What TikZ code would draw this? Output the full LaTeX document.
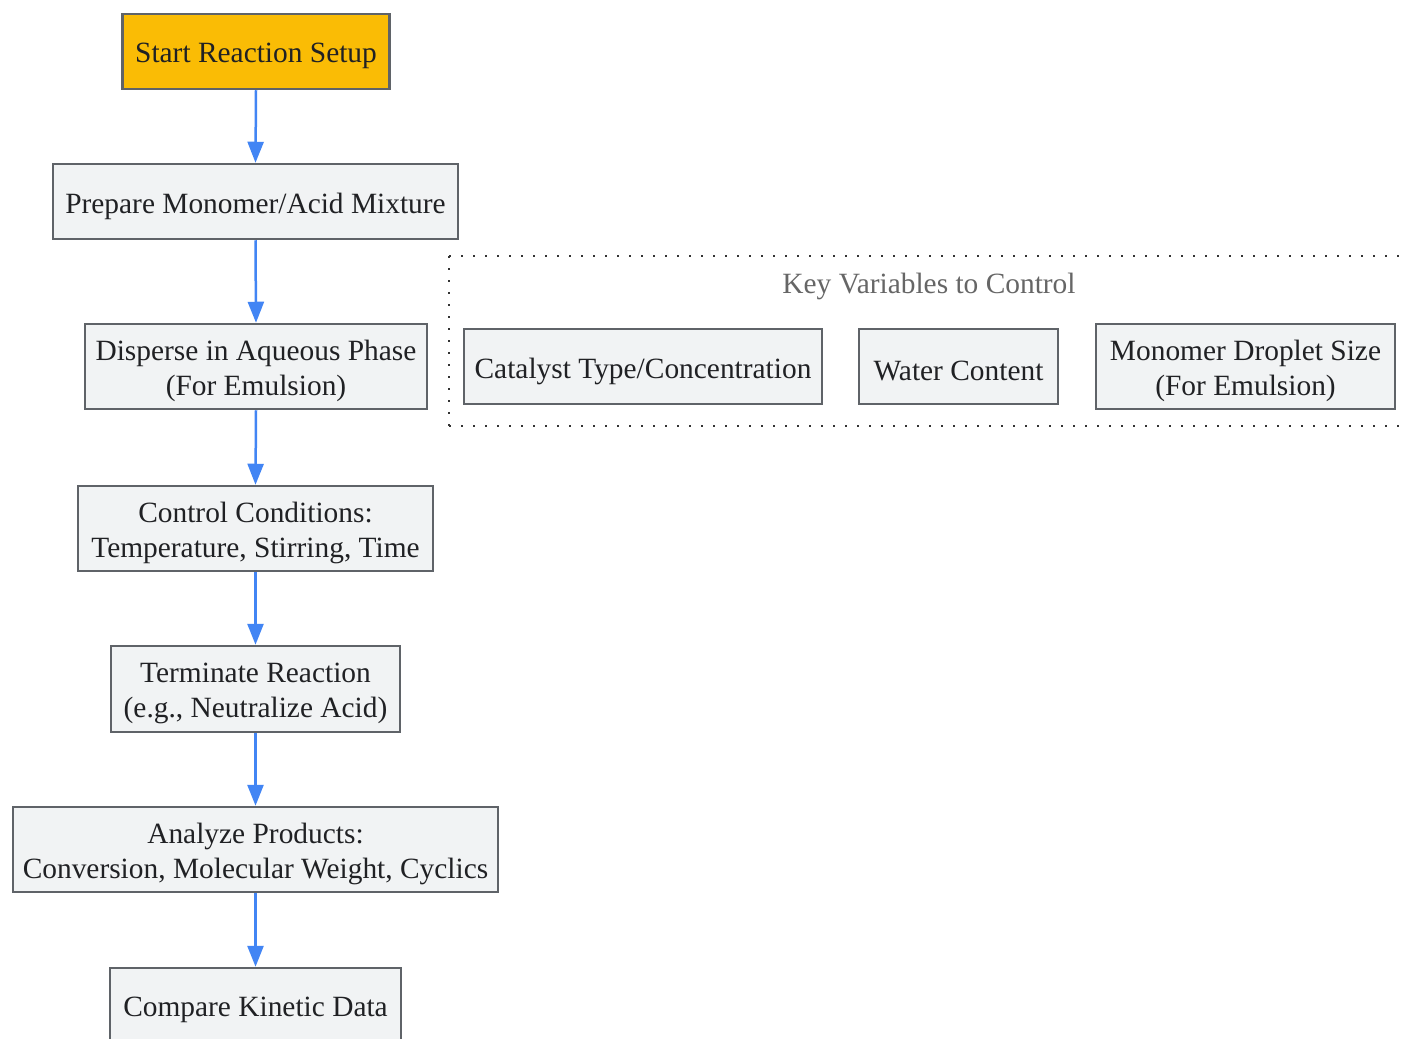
\documentclass[tikz,border=0pt]{standalone}
\usepackage{fontspec}
\setmainfont{Liberation Serif}
\usetikzlibrary{arrows.meta}
\definecolor{boxfill}{HTML}{F1F3F4}
\definecolor{boxline}{HTML}{5F6368}
\definecolor{startfill}{HTML}{FABC05}
\definecolor{arrowblue}{HTML}{4285F4}
\definecolor{txt}{HTML}{202124}
\definecolor{titlegray}{HTML}{666666}
\tikzset{
  txtstyle/.style={align=center, text=txt, inner sep=0pt, yshift=-4.5pt,
    font=\fontsize{29.4}{35}\selectfont},
  stepbox/.style={draw=boxline, fill=boxfill, line width=2.5pt, inner sep=0pt},
  startbox/.style={stepbox, fill=startfill},
  boxtext/.style={label={[txtstyle]center:{#1}}},
  flow/.style={draw=arrowblue, line width=2.5pt, -{Triangle[length=21pt,width=16pt]}},
  cluster/.style={draw=black!80, line width=1.8pt, dash pattern=on 1.8pt off 10.2pt}
}
\begin{document}
\begin{tikzpicture}[x=1pt,y=-1pt]
\useasboundingbox (0,0) rectangle (1404,1038);
\clip (0,0) rectangle (1404,1038);
\fill[white] (0,0) rectangle (1404,1038);
% cluster
\draw[cluster] (449,256) -- (1420,256);
\draw[cluster] (449,426) -- (1420,426);
\draw[cluster] (449,256) -- (449,426);
\node[text=titlegray, inner sep=0pt, font=\fontsize{29.4}{35}\selectfont] (ctitle) at (929,286) {Key Variables to Control};
\node[stepbox, minimum width=358pt, minimum height=75pt, boxtext={Catalyst Type/Concentration}] (cat) at (643,366.5) {};
\node[stepbox, minimum width=199pt, minimum height=75pt, boxtext={Water Content}] (water) at (958.5,366.5) {};
\node[stepbox, minimum width=299pt, minimum height=85pt, boxtext={Monomer Droplet Size\\(For Emulsion)}] (mono) at (1245.5,366.5) {};
% main flow
\node[startbox, minimum width=267pt, minimum height=75pt, boxtext={Start Reaction Setup}] (start) at (256,51.5) {};
\node[stepbox, minimum width=405pt, minimum height=75pt, boxtext={Prepare Monomer/Acid Mixture}] (prep) at (255.5,201.5) {};
\node[stepbox, minimum width=342pt, minimum height=85pt, boxtext={Disperse in Aqueous Phase\\(For Emulsion)}] (disp) at (256,366.5) {};
\node[stepbox, minimum width=355pt, minimum height=85pt, boxtext={Control Conditions:\\Temperature, Stirring, Time}] (ctrl) at (255.5,528.5) {};
\node[stepbox, minimum width=289pt, minimum height=86pt, boxtext={Terminate Reaction\\(e.g., Neutralize Acid)}] (term) at (255.5,689) {};
\node[stepbox, minimum width=485pt, minimum height=85pt, boxtext={Analyze Products:\\Conversion, Molecular Weight, Cyclics}] (anal) at (255.5,849.5) {};
\node[stepbox, minimum width=291pt, minimum height=75pt, boxtext={Compare Kinetic Data}] (comp) at (255.5,1005.5) {};
\draw[flow] (start.south) -- (prep.north);
\draw[flow] (prep.south) -- (disp.north);
\draw[flow] (disp.south) -- (ctrl.north);
\draw[flow] (ctrl.south) -- (term.north);
\draw[flow] (term.south) -- (anal.north);
\draw[flow] (anal.south) -- (comp.north);
\end{tikzpicture}
\end{document}
